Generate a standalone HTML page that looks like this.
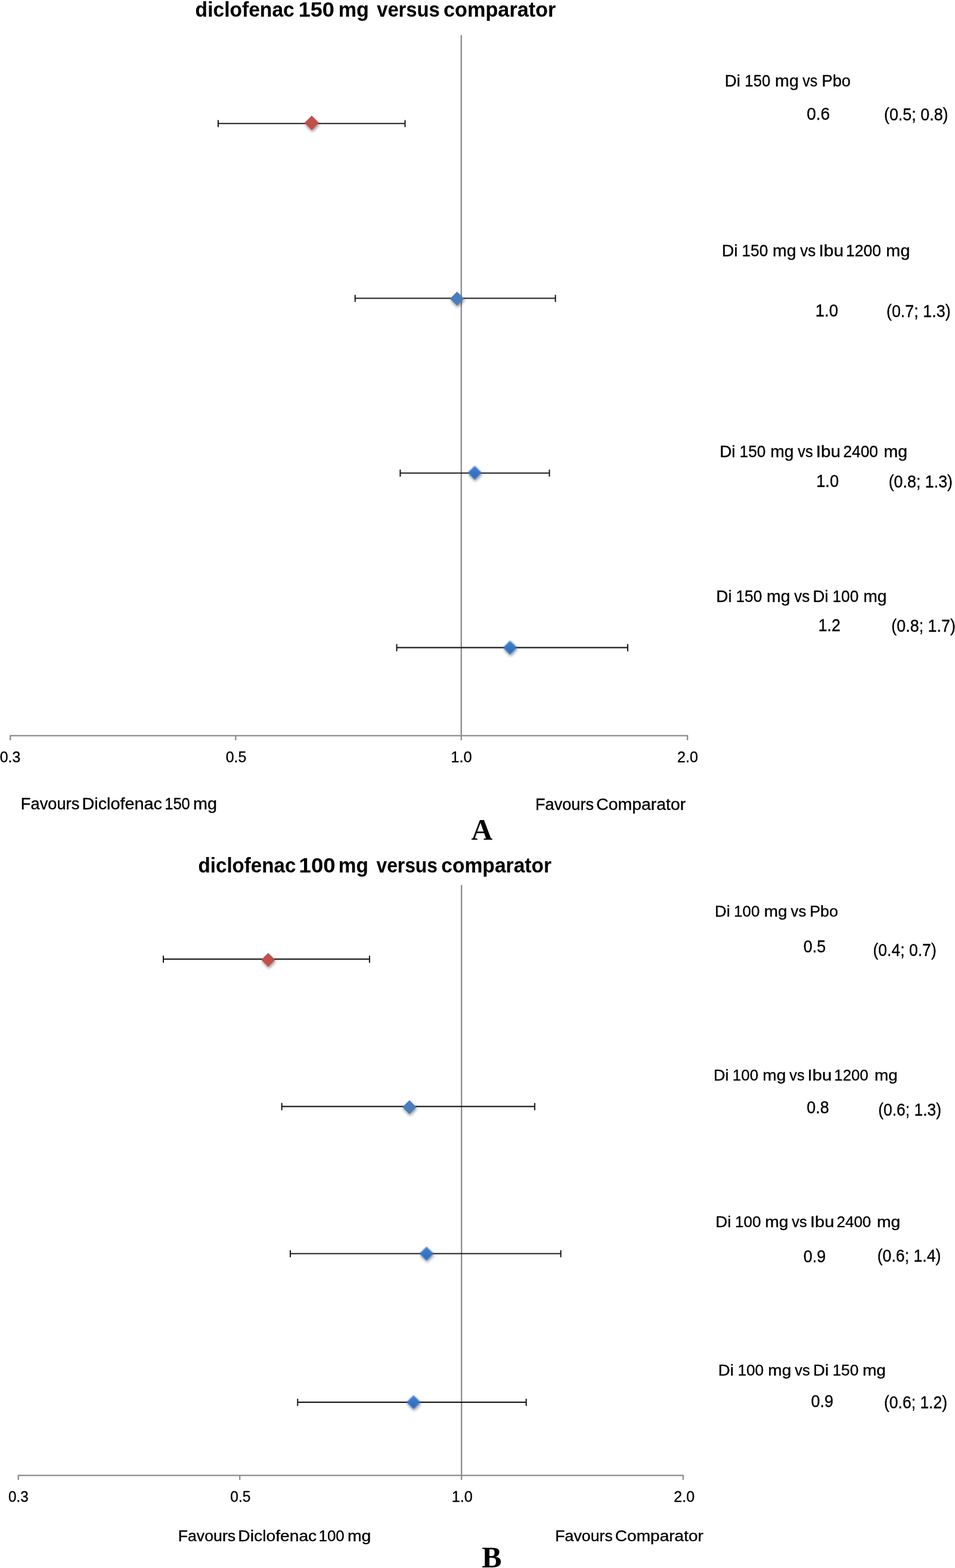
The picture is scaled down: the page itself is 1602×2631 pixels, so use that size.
<!DOCTYPE html>
<html lang="en">
<head>
<meta charset="utf-8">
<title>Forest plots: diclofenac versus comparator</title>
<style>
html,body{margin:0;padding:0;background:#fff;}
body{width:1602px;height:2631px;overflow:hidden;}
svg{display:block;filter:blur(0.4px);}
text{fill:#000;white-space:pre;font-kerning:none;}
.ss{font-family:"Liberation Sans",sans-serif;stroke:#000;stroke-width:0.35px;stroke-linejoin:round;}
.ss[font-weight="bold"]{stroke-width:0.1px;}
.sf{font-family:"Liberation Serif",serif;}
</style>
</head>
<body>
<svg width="1602" height="2631" viewBox="0 0 1602 2631">
<defs>
<linearGradient id="gb" x1="0" y1="0" x2="0" y2="1">
<stop offset="0" stop-color="#3f7fd4"/><stop offset="1" stop-color="#2f6bb6"/>
</linearGradient>
<filter id="sh" x="-60%" y="-60%" width="220%" height="240%">
<feGaussianBlur in="SourceAlpha" stdDeviation="2.6" result="b"/>
<feOffset in="b" dx="0.6" dy="3.4" result="o"/>
<feComponentTransfer in="o" result="s"><feFuncA type="linear" slope="0.42"/></feComponentTransfer>
<feMerge><feMergeNode in="s"/><feMergeNode in="SourceGraphic"/></feMerge>
</filter>
<filter id="shs" x="-60%" y="-60%" width="220%" height="240%">
<feGaussianBlur in="SourceAlpha" stdDeviation="2.6" result="b"/>
<feOffset in="b" dx="0.6" dy="3.4" result="o"/>
<feComponentTransfer in="o" result="s"><feFuncA type="linear" slope="0.42"/></feComponentTransfer>
<feGaussianBlur in="SourceGraphic" stdDeviation="0.8" result="g"/>
<feMerge><feMergeNode in="s"/><feMergeNode in="g"/></feMerge>
</filter>
</defs>
<rect x="0" y="0" width="1602" height="2631" fill="#ffffff"/>
<g id="panel-a">
<text class="ss" y="28.10" font-size="35.3" font-weight="bold"><tspan x="327.62" textLength="166.16" lengthAdjust="spacingAndGlyphs">diclofenac</tspan> <tspan x="500.73" textLength="60.15" lengthAdjust="spacingAndGlyphs">150</tspan> <tspan x="567.76" textLength="51.02" lengthAdjust="spacingAndGlyphs">mg</tspan>  <tspan x="632.27" textLength="105.37" lengthAdjust="spacingAndGlyphs">versus</tspan> <tspan x="744.06" textLength="188.36" lengthAdjust="spacingAndGlyphs">comparator</tspan></text>
<path d="M17.30 1241.90 V1234.30 H1153.20 V1241.90 M395.30 1234.30 V1241.90 M773.80 59.00 V1241.90" fill="none" stroke="#8c8c8c" stroke-width="2.3" stroke-linejoin="round"/>
<path d="M366.00 207.20 H679.50 M366.00 202.20 V212.50 M679.50 202.20 V212.50" fill="none" stroke="#1c1c1c" stroke-width="2.1" stroke-linecap="round"/>
<path d="M522.90 194.10 L535.10 206.30 L522.90 218.50 L510.70 206.30 Z" fill="#c0504d" filter="url(#sh)"/>
<path d="M595.70 500.45 H931.70 M595.70 495.45 V505.75 M931.70 495.45 V505.75" fill="none" stroke="#1c1c1c" stroke-width="2.1" stroke-linecap="round"/>
<path d="M766.70 489.30 L778.60 501.20 L766.70 513.10 L754.80 501.20 Z" fill="#4a7ebb" filter="url(#sh)"/>
<path d="M671.40 793.70 H921.60 M671.40 788.70 V799.00 M921.60 788.70 V799.00" fill="none" stroke="#1c1c1c" stroke-width="2.1" stroke-linecap="round"/>
<path d="M796.30 782.30 L807.20 793.20 L796.30 804.10 L785.40 793.20 Z" fill="url(#gb)" stroke="url(#gb)" stroke-width="1.2" stroke-linejoin="round" filter="url(#shs)"/>
<path d="M665.50 1086.60 H1053.00 M665.50 1081.60 V1091.90 M1053.00 1081.60 V1091.90" fill="none" stroke="#1c1c1c" stroke-width="2.1" stroke-linecap="round"/>
<path d="M855.60 1075.70 L866.50 1086.60 L855.60 1097.50 L844.70 1086.60 Z" fill="url(#gb)" stroke="url(#gb)" stroke-width="1.2" stroke-linejoin="round" filter="url(#shs)"/>
<text class="ss" x="-0.27" y="1279.30" font-size="25.8" textLength="34.67" lengthAdjust="spacingAndGlyphs">0.3</text>
<text class="ss" x="378.63" y="1279.30" font-size="25.8" textLength="34.62" lengthAdjust="spacingAndGlyphs">0.5</text>
<text class="ss" x="756.36" y="1279.30" font-size="25.8" textLength="35.33" lengthAdjust="spacingAndGlyphs">1.0</text>
<text class="ss" x="1136.04" y="1279.30" font-size="25.8" textLength="34.95" lengthAdjust="spacingAndGlyphs">2.0</text>
<text class="ss" y="1357.70" font-size="26.8"><tspan x="34.87" textLength="98.42" lengthAdjust="spacingAndGlyphs">Favours</tspan> <tspan x="137.44" textLength="134.52" lengthAdjust="spacingAndGlyphs">Diclofenac</tspan> <tspan x="276.26" textLength="42.54" lengthAdjust="spacingAndGlyphs">150</tspan> <tspan x="324.09" textLength="39.96" lengthAdjust="spacingAndGlyphs">mg</tspan></text>
<text class="ss" y="1359.10" font-size="26.8"><tspan x="897.97" textLength="98.11" lengthAdjust="spacingAndGlyphs">Favours</tspan> <tspan x="1000.26" textLength="150.01" lengthAdjust="spacingAndGlyphs">Comparator</tspan></text>
<text class="sf" x="790.62" y="1409.00" font-size="51" font-weight="bold" textLength="35.75" lengthAdjust="spacingAndGlyphs">A</text>
<text class="ss" y="145.20" font-size="27.0"><tspan x="1215.73" textLength="26.14" lengthAdjust="spacingAndGlyphs">Di</tspan> <tspan x="1249.34" textLength="42.97" lengthAdjust="spacingAndGlyphs">150</tspan> <tspan x="1300.10" textLength="39.74" lengthAdjust="spacingAndGlyphs">mg</tspan> <tspan x="1346.21" textLength="24.99" lengthAdjust="spacingAndGlyphs">vs</tspan> <tspan x="1378.57" textLength="48.37" lengthAdjust="spacingAndGlyphs">Pbo</tspan></text>
<text class="ss" y="429.90" font-size="27.0"><tspan x="1210.76" textLength="26.97" lengthAdjust="spacingAndGlyphs">Di</tspan> <tspan x="1244.50" textLength="43.83" lengthAdjust="spacingAndGlyphs">150</tspan> <tspan x="1296.01" textLength="39.52" lengthAdjust="spacingAndGlyphs">mg</tspan> <tspan x="1342.21" textLength="26.03" lengthAdjust="spacingAndGlyphs">vs</tspan> <tspan x="1373.54" textLength="41.54" lengthAdjust="spacingAndGlyphs">Ibu</tspan> <tspan x="1418.98" textLength="59.06" lengthAdjust="spacingAndGlyphs">1200</tspan>  <tspan x="1486.38" textLength="40.08" lengthAdjust="spacingAndGlyphs">mg</tspan></text>
<text class="ss" y="767.20" font-size="27.0"><tspan x="1207.21" textLength="26.37" lengthAdjust="spacingAndGlyphs">Di</tspan> <tspan x="1240.60" textLength="43.83" lengthAdjust="spacingAndGlyphs">150</tspan> <tspan x="1292.22" textLength="39.30" lengthAdjust="spacingAndGlyphs">mg</tspan> <tspan x="1338.21" textLength="25.40" lengthAdjust="spacingAndGlyphs">vs</tspan> <tspan x="1368.86" textLength="41.20" lengthAdjust="spacingAndGlyphs">Ibu</tspan> <tspan x="1414.48" textLength="58.55" lengthAdjust="spacingAndGlyphs">2400</tspan>  <tspan x="1482.61" textLength="39.52" lengthAdjust="spacingAndGlyphs">mg</tspan></text>
<text class="ss" y="1010.10" font-size="27.0"><tspan x="1201.31" textLength="26.37" lengthAdjust="spacingAndGlyphs">Di</tspan> <tspan x="1234.50" textLength="43.83" lengthAdjust="spacingAndGlyphs">150</tspan> <tspan x="1286.01" textLength="39.52" lengthAdjust="spacingAndGlyphs">mg</tspan> <tspan x="1332.21" textLength="26.03" lengthAdjust="spacingAndGlyphs">vs</tspan> <tspan x="1363.43" textLength="26.14" lengthAdjust="spacingAndGlyphs">Di</tspan> <tspan x="1396.50" textLength="43.83" lengthAdjust="spacingAndGlyphs">100</tspan> <tspan x="1448.32" textLength="39.30" lengthAdjust="spacingAndGlyphs">mg</tspan></text>
<text class="ss" x="1353.20" y="201.40" font-size="29" textLength="39.03" lengthAdjust="spacingAndGlyphs">0.6</text>
<text class="ss" x="1482.93" y="202.30" font-size="29" textLength="107.64" lengthAdjust="spacingAndGlyphs">(0.5; 0.8)</text>
<text class="ss" x="1367.80" y="530.80" font-size="29" textLength="38.27" lengthAdjust="spacingAndGlyphs">1.0</text>
<text class="ss" x="1486.93" y="532.20" font-size="29" textLength="107.74" lengthAdjust="spacingAndGlyphs">(0.7; 1.3)</text>
<text class="ss" x="1369.23" y="817.20" font-size="29" textLength="37.84" lengthAdjust="spacingAndGlyphs">1.0</text>
<text class="ss" x="1490.64" y="818.00" font-size="29" textLength="107.43" lengthAdjust="spacingAndGlyphs">(0.8; 1.3)</text>
<text class="ss" x="1372.67" y="1058.60" font-size="29" textLength="37.07" lengthAdjust="spacingAndGlyphs">1.2</text>
<text class="ss" x="1495.33" y="1060.00" font-size="29" textLength="107.53" lengthAdjust="spacingAndGlyphs">(0.8; 1.7)</text>
</g>
<g id="panel-b">
<text class="ss" y="1463.60" font-size="34.9" font-weight="bold"><tspan x="332.54" textLength="163.83" lengthAdjust="spacingAndGlyphs">diclofenac</tspan> <tspan x="501.60" textLength="60.90" lengthAdjust="spacingAndGlyphs">100</tspan> <tspan x="567.81" textLength="49.92" lengthAdjust="spacingAndGlyphs">mg</tspan>  <tspan x="631.58" textLength="102.33" lengthAdjust="spacingAndGlyphs">versus</tspan> <tspan x="740.29" textLength="184.82" lengthAdjust="spacingAndGlyphs">comparator</tspan></text>
<path d="M30.80 2483.20 V2475.60 H1146.00 V2483.20 M402.20 2475.60 V2483.20 M774.20 1485.00 V2483.20" fill="none" stroke="#8c8c8c" stroke-width="2.3" stroke-linejoin="round"/>
<path d="M274.00 1609.40 H619.90 M274.00 1604.40 V1614.70 M619.90 1604.40 V1614.70" fill="none" stroke="#1c1c1c" stroke-width="2.1" stroke-linecap="round"/>
<path d="M449.90 1598.90 L461.60 1610.60 L449.90 1622.30 L438.20 1610.60 Z" fill="#c0504d" filter="url(#sh)"/>
<path d="M472.70 1856.60 H897.00 M472.70 1851.60 V1861.90 M897.00 1851.60 V1861.90" fill="none" stroke="#1c1c1c" stroke-width="2.1" stroke-linecap="round"/>
<path d="M686.80 1845.90 L698.60 1857.70 L686.80 1869.50 L675.00 1857.70 Z" fill="#4a7ebb" filter="url(#sh)"/>
<path d="M487.00 2103.50 H940.70 M487.00 2098.50 V2108.80 M940.70 2098.50 V2108.80" fill="none" stroke="#1c1c1c" stroke-width="2.1" stroke-linecap="round"/>
<path d="M715.50 2092.60 L726.40 2103.50 L715.50 2114.40 L704.60 2103.50 Z" fill="url(#gb)" stroke="url(#gb)" stroke-width="1.2" stroke-linejoin="round" filter="url(#shs)"/>
<path d="M499.30 2352.90 H882.70 M499.30 2347.90 V2358.20 M882.70 2347.90 V2358.20" fill="none" stroke="#1c1c1c" stroke-width="2.1" stroke-linecap="round"/>
<path d="M693.70 2341.90 L704.60 2352.80 L693.70 2363.70 L682.80 2352.80 Z" fill="url(#gb)" stroke="url(#gb)" stroke-width="1.2" stroke-linejoin="round" filter="url(#shs)"/>
<text class="ss" x="13.95" y="2520.30" font-size="25.8" textLength="33.82" lengthAdjust="spacingAndGlyphs">0.3</text>
<text class="ss" x="386.34" y="2520.30" font-size="25.8" textLength="34.19" lengthAdjust="spacingAndGlyphs">0.5</text>
<text class="ss" x="757.68" y="2520.30" font-size="25.8" textLength="35.11" lengthAdjust="spacingAndGlyphs">1.0</text>
<text class="ss" x="1130.24" y="2520.30" font-size="25.8" textLength="34.95" lengthAdjust="spacingAndGlyphs">2.0</text>
<text class="ss" y="2586.00" font-size="26.5"><tspan x="298.71" textLength="96.46" lengthAdjust="spacingAndGlyphs">Favours</tspan> <tspan x="399.38" textLength="131.86" lengthAdjust="spacingAndGlyphs">Diclofenac</tspan> <tspan x="534.53" textLength="43.18" lengthAdjust="spacingAndGlyphs">100</tspan> <tspan x="582.92" textLength="39.41" lengthAdjust="spacingAndGlyphs">mg</tspan></text>
<text class="ss" y="2586.40" font-size="26.5"><tspan x="931.31" textLength="96.56" lengthAdjust="spacingAndGlyphs">Favours</tspan> <tspan x="1031.77" textLength="148.19" lengthAdjust="spacingAndGlyphs">Comparator</tspan></text>
<text class="sf" x="808.27" y="2630.00" font-size="50" font-weight="bold" textLength="33.32" lengthAdjust="spacingAndGlyphs">B</text>
<text class="ss" y="1538.20" font-size="26.6"><tspan x="1199.07" textLength="25.66" lengthAdjust="spacingAndGlyphs">Di</tspan> <tspan x="1231.12" textLength="43.29" lengthAdjust="spacingAndGlyphs">100</tspan> <tspan x="1281.75" textLength="38.75" lengthAdjust="spacingAndGlyphs">mg</tspan> <tspan x="1326.61" textLength="25.72" lengthAdjust="spacingAndGlyphs">vs</tspan> <tspan x="1358.19" textLength="47.83" lengthAdjust="spacingAndGlyphs">Pbo</tspan></text>
<text class="ss" y="1813.00" font-size="26.6"><tspan x="1196.88" textLength="25.54" lengthAdjust="spacingAndGlyphs">Di</tspan> <tspan x="1228.82" textLength="43.29" lengthAdjust="spacingAndGlyphs">100</tspan> <tspan x="1279.23" textLength="39.08" lengthAdjust="spacingAndGlyphs">mg</tspan> <tspan x="1324.31" textLength="25.30" lengthAdjust="spacingAndGlyphs">vs</tspan> <tspan x="1354.60" textLength="40.64" lengthAdjust="spacingAndGlyphs">Ibu</tspan> <tspan x="1399.34" textLength="57.37" lengthAdjust="spacingAndGlyphs">1200</tspan>  <tspan x="1466.95" textLength="38.75" lengthAdjust="spacingAndGlyphs">mg</tspan></text>
<text class="ss" y="2058.60" font-size="26.6"><tspan x="1200.23" textLength="26.14" lengthAdjust="spacingAndGlyphs">Di</tspan> <tspan x="1232.91" textLength="43.61" lengthAdjust="spacingAndGlyphs">100</tspan> <tspan x="1283.32" textLength="39.30" lengthAdjust="spacingAndGlyphs">mg</tspan> <tspan x="1328.21" textLength="25.40" lengthAdjust="spacingAndGlyphs">vs</tspan> <tspan x="1358.92" textLength="40.41" lengthAdjust="spacingAndGlyphs">Ibu</tspan> <tspan x="1403.60" textLength="57.61" lengthAdjust="spacingAndGlyphs">2400</tspan>  <tspan x="1471.02" textLength="39.30" lengthAdjust="spacingAndGlyphs">mg</tspan></text>
<text class="ss" y="2308.00" font-size="26.6"><tspan x="1204.73" textLength="26.14" lengthAdjust="spacingAndGlyphs">Di</tspan> <tspan x="1237.40" textLength="43.83" lengthAdjust="spacingAndGlyphs">100</tspan> <tspan x="1288.34" textLength="38.97" lengthAdjust="spacingAndGlyphs">mg</tspan> <tspan x="1333.21" textLength="25.40" lengthAdjust="spacingAndGlyphs">vs</tspan> <tspan x="1364.03" textLength="26.14" lengthAdjust="spacingAndGlyphs">Di</tspan> <tspan x="1396.50" textLength="43.83" lengthAdjust="spacingAndGlyphs">150</tspan> <tspan x="1446.93" textLength="39.08" lengthAdjust="spacingAndGlyphs">mg</tspan></text>
<text class="ss" x="1347.75" y="1597.50" font-size="28.6" textLength="37.38" lengthAdjust="spacingAndGlyphs">0.5</text>
<text class="ss" x="1464.45" y="1603.70" font-size="28.6" textLength="106.29" lengthAdjust="spacingAndGlyphs">(0.4; 0.7)</text>
<text class="ss" x="1353.35" y="1868.00" font-size="28.6" textLength="37.42" lengthAdjust="spacingAndGlyphs">0.8</text>
<text class="ss" x="1473.16" y="1872.30" font-size="28.6" textLength="105.98" lengthAdjust="spacingAndGlyphs">(0.6; 1.3)</text>
<text class="ss" x="1347.75" y="2118.00" font-size="28.6" textLength="37.53" lengthAdjust="spacingAndGlyphs">0.9</text>
<text class="ss" x="1471.75" y="2116.70" font-size="28.6" textLength="106.60" lengthAdjust="spacingAndGlyphs">(0.6; 1.4)</text>
<text class="ss" x="1360.45" y="2361.00" font-size="28.6" textLength="37.43" lengthAdjust="spacingAndGlyphs">0.9</text>
<text class="ss" x="1483.06" y="2363.30" font-size="28.6" textLength="105.98" lengthAdjust="spacingAndGlyphs">(0.6; 1.2)</text>
</g>
</svg>
</body>
</html>
